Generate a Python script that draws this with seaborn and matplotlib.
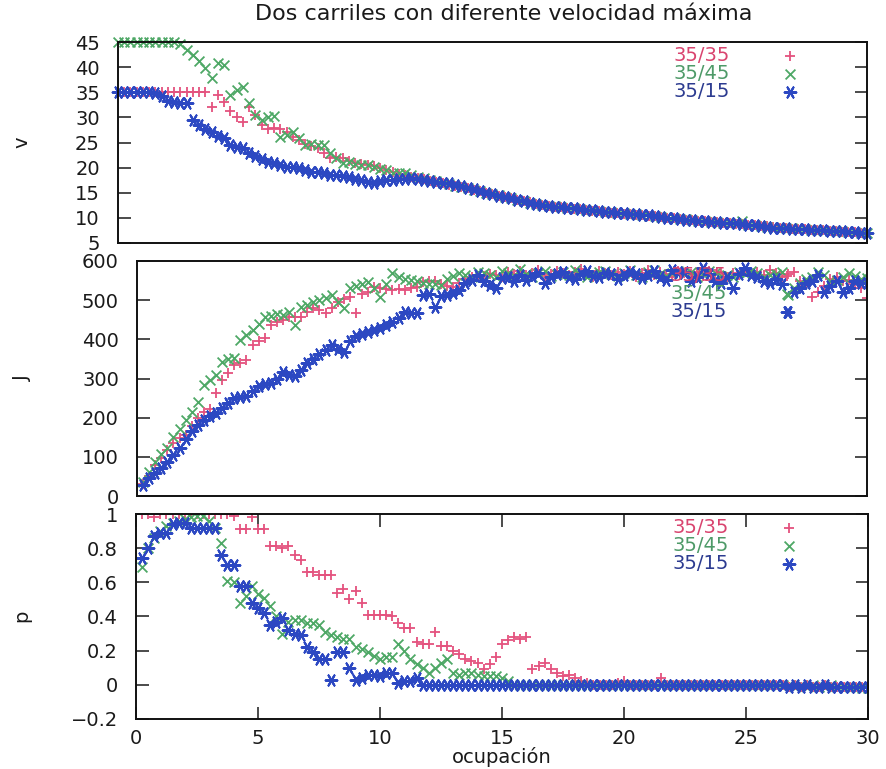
import numpy as np
import pandas as pd
import matplotlib
matplotlib.use("Agg")
import matplotlib.pyplot as plt
import seaborn as sns

# ---------------- data ----------------
ocupacion = np.arange(121) * 0.25          # 0 .. 30, step 0.25
series = ["35/35", "35/45", "35/15"]
nan = np.nan

v_35_35 = [35, 35, 35, 35, 35, 35, 35, 35, 35, 35, 35, 35, 35, 35, 35, 32.1, 34.5, 33.0, 31.3, 30.0,
           29.1, 32.1, 30.5, 28.5, 27.7, 27.9, 27.7, 27.0, 26.1, 25.5, 24.8, 24.3, 23.9, 22.9, 21.9, 22.1, 21.9, 21.3, 20.9, 20.7,
           20.5, 20.3, 19.9, 19.5, 19.2, 18.8, 18.5, 18.2, 17.9, 17.7, 17.4, 17.1, 16.9, 16.6, 16.4, 16.1, 15.9, 15.6, 15.3, 15.0,
           14.7, 14.4, 14.1, 13.9, 13.6, 13.3, 13.1, 12.8, 12.6, 12.4, 12.2, 12.1, 11.9, 11.8, 11.7, 11.6, 11.4, 11.3, 11.2, 11.0,
           10.9, 10.8, 10.7, 10.6, 10.5, 10.4, 10.3, 10.2, 10.0, 9.9, 9.8, 9.6, 9.5, 9.4, 9.3, 9.2, 9.1, 9.0, 8.9, 8.8,
           8.7, 8.6, 8.5, 8.4, 8.3, 8.1, 8.0, 7.9, 7.8, 7.8, 7.7, 7.6, 7.5, 7.5, 7.4, 7.3, 7.2, 7.2, 7.1, 7.0,
           6.9]
v_35_45 = [45, 45, 45, 45, 45, 45, 45, 45, 45, 45, 44.6, 43.5, 42.5, 41.2, 39.8, 37.8, 40.8, 40.5, 34.5, 35.5,
           36.0, 32.9, 30.5, 29.5, 30.1, 30.2, 26.1, 26.4, 27.1, 25.9, 24.5, 24.7, 24.5, 24.5, 23.0, 22.0, 20.9, 21.2, 20.8, 20.6,
           20.5, 20.2, 19.8, 19.5, 18.9, 18.9, 18.9, 18.5, 18.2, 17.9, 17.6, 17.3, 17.0, 16.7, 16.4, 16.2, 16.0, 15.6, 15.3, 15.0,
           14.7, 14.5, 14.2, 13.9, 13.6, 13.3, 13.0, 12.8, 12.6, 12.4, 12.3, 12.1, 12.0, 11.9, 11.7, 11.6, 11.5, 11.3, 11.2, 11.1,
           11.0, 10.9, 10.8, 10.7, 10.6, 10.4, 10.3, 10.2, 10.1, 9.9, 9.8, 9.7, 9.5, 9.4, 9.3, 9.2, 9.1, 9.0, 8.9, 8.9,
           9.3, 8.6, 8.5, 8.4, 8.2, 8.1, 8.0, 7.9, 7.9, 7.8, 7.7, 7.6, 7.5, 7.5, 7.4, 7.3, 7.3, 7.2, 7.1, 7.0,
           6.9]
v_35_15 = [35, 35, 35, 35, 35, 35, 34.8, 34.3, 33.3, 33.0, 32.8, 32.8, 29.5, 28.5, 27.6, 27.0, 26.3, 25.8, 24.6, 24.2,
           23.9, 23.0, 22.4, 21.8, 21.2, 21.0, 20.5, 20.1, 20.2, 20.0, 19.6, 19.2, 19.1, 18.9, 18.6, 18.5, 18.3, 18.1, 17.8, 17.6,
           17.2, 17.0, 17.3, 17.5, 17.6, 17.7, 17.8, 17.9, 17.8, 17.6, 17.3, 17.1, 17.0, 16.9, 16.6, 16.3, 16.0, 15.7, 15.3, 15.0,
           14.7, 14.4, 14.2, 14.0, 13.6, 13.3, 12.9, 12.7, 12.6, 12.4, 12.2, 12.1, 12.0, 11.9, 11.8, 11.6, 11.5, 11.4, 11.2, 11.1,
           11.0, 10.9, 10.8, 10.7, 10.6, 10.5, 10.3, 10.2, 10.0, 9.9, 9.7, 9.6, 9.5, 9.4, 9.3, 9.2, 9.1, 9.0, 9.0, 8.9,
           8.7, 8.6, 8.5, 8.3, 8.2, 8.0, 8.0, 7.9, 7.8, 7.8, 7.7, 7.6, 7.6, 7.5, 7.4, 7.3, 7.3, 7.2, 7.1, 7.0,
           6.9]

J_35_35 = [nan, 30, 52, 78, 98, 118, 135, 148, 155, 180, 199, 215, 222, 263, 296, 315, 334, 340, 347, 386,
           395, 403, 437, 445, 450, 457, 457, 457, 470, 480, 475, 467, 480, 495, 502, 508, 467, 515, 521, 534,
           530, 528, 526, 528, 526, 530, 534, 546, 550, 548, 540, 536, 534, 545, 555, 560, 558, 562, 566, 564,
           560, 572, 568, 575, 565, 570, 578, 562, 568, 575, 570, 565, 572, 580, 568, 560, 575, 570, 565, 572,
           568, 574, 560, 570, 578, 565, 572, 568, 560, 575, 570, 566, 572, 562, 575, 568, 572, 560, 570, 565,
           575, 568, 572, 565, 578, 570, 560, 566, 572, 550, 540, 508, 520, 535, 555, 560, 548, 552, 540, 530,
           505]
J_35_45 = [nan, 35, 62, 88, 108, 123, 150, 170, 194, 215, 240, 283, 295, 309, 342, 350, 352, 398, 410, 424,
           440, 457, 460, 465, 462, 470, 437, 482, 488, 495, 500, 505, 513, 495, 480, 531, 535, 540, 546, 530,
           508, 540, 569, 560, 555, 551, 548, 544, 540, 542, 539, 555, 562, 569, 565, 560, 572, 570, 565, 558,
           575, 570, 562, 580, 566, 558, 570, 575, 562, 568, 572, 565, 578, 570, 560, 566, 572, 575, 568, 562,
           570, 576, 565, 560, 572, 578, 568, 562, 570, 575, 566, 572, 560, 568, 575, 570, 562, 565, 558, 572,
           568, 575, 570, 560, 565, 568, 572, 513, 530, 545, 555, 560, 572, 565, 548, 552, 560, 570, 562, 555,
           557]
J_35_15 = [nan, 28, 45, 58, 72, 86, 105, 122, 145, 165, 182, 193, 203, 213, 225, 238, 250, 252, 256, 268,
           280, 285, 288, 300, 317, 310, 306, 322, 340, 350, 362, 372, 386, 375, 368, 395, 408, 413, 419, 424,
           430, 437, 444, 455, 470, 468, 466, 512, 516, 482, 510, 514, 518, 525, 544, 552, 564, 548, 538, 531,
           557, 560, 548, 565, 552, 562, 570, 545, 558, 566, 572, 560, 553, 568, 575, 562, 558, 570, 566, 555,
           563, 572, 568, 556, 565, 575, 560, 552, 578, 570, 572, 548, 560, 582, 567, 550, 545, 558, 531, 568,
           582, 565, 560, 548, 545, 555, 540, 470, 521, 530, 545, 550, 565, 521, 535, 548, 521, 530, 550, 544,
           545]

p_35_35 = [nan, 1.0, 1.0, 0.98, 1.0, 1.0, 1.0, 1.0, 1.0, 1.0, 1.0, 1.0, 1.0, 1.0, 1.0, 1.0, 0.99, 0.91, 0.91, 0.98,
           0.91, 0.91, 0.81, 0.81, 0.80, 0.81, 0.76, 0.73, 0.66, 0.66, 0.64, 0.64, 0.64, 0.54, 0.56, 0.50, 0.55, 0.48, 0.41, 0.41,
           0.41, 0.41, 0.40, 0.36, 0.33, 0.33, 0.25, 0.24, 0.24, 0.31, 0.23, 0.23, 0.20, 0.18, 0.15, 0.14, 0.13, 0.09, 0.12, 0.16,
           0.24, 0.26, 0.28, 0.27, 0.28, 0.09, 0.11, 0.13, 0.09, 0.07, 0.05, 0.06, 0.04, 0.02, 0.01, 0.0, 0.0, 0.0, 0.0, 0.01,
           0.02, 0.0, 0.0, 0.0, 0.0, 0.0, 0.04, 0.0, 0.0, 0.0, 0.0, 0.0, 0.0, 0.0, 0.0, 0.0, 0.0, 0.0, 0.0, 0.0,
           0.0, 0.0, 0.0, 0.0, 0.0, 0.0, 0.0, -0.01, 0.0, -0.01, 0.0, -0.01, -0.01, 0.0, -0.01, -0.01, -0.01, -0.01, -0.01, -0.01,
           -0.01]
p_35_45 = [nan, 0.69, 0.80, 0.86, 0.90, 0.93, 0.95, 0.96, 0.97, 0.98, 0.99, 0.99, 0.96, 0.92, 0.83, 0.61, 0.60, 0.48, 0.52, 0.58,
           0.53, 0.51, 0.46, 0.40, 0.30, 0.37, 0.38, 0.38, 0.36, 0.36, 0.35, 0.31, 0.29, 0.28, 0.27, 0.27, 0.22, 0.21, 0.19, 0.17,
           0.15, 0.16, 0.16, 0.24, 0.20, 0.15, 0.12, 0.10, 0.07, 0.10, 0.13, 0.15, 0.07, 0.06, 0.07, 0.07, 0.06, 0.05, 0.05, 0.05,
           0.04, 0.02, 0.0, 0.0, 0.0, 0.0, 0.0, 0.0, 0.0, 0.0, 0.0, 0.0, 0.0, 0.0, 0.0, 0.0, 0.0, 0.0, 0.0, 0.0,
           0.0, 0.0, 0.0, 0.0, 0.0, 0.0, 0.0, 0.0, 0.0, 0.0, 0.0, 0.0, 0.0, 0.0, 0.0, 0.0, 0.0, 0.0, 0.0, 0.0,
           0.0, 0.0, 0.0, 0.0, 0.0, 0.0, 0.0, 0.0, -0.01, 0.0, -0.01, 0.0, -0.01, -0.01, 0.0, -0.01, -0.01, -0.01, -0.01, -0.02,
           -0.02]
p_35_15 = [nan, 0.74, 0.80, 0.87, 0.89, 0.89, 0.94, 0.95, 0.95, 0.92, 0.92, 0.92, 0.92, 0.92, 0.76, 0.70, 0.70, 0.58, 0.58, 0.48,
           0.45, 0.42, 0.35, 0.37, 0.39, 0.32, 0.30, 0.29, 0.22, 0.19, 0.15, 0.15, 0.03, 0.19, 0.19, 0.10, 0.03, 0.04, 0.06, 0.06,
           0.05, 0.07, 0.07, 0.01, 0.02, 0.02, 0.04, 0.0, 0.0, 0.0, 0.0, 0.0, 0.0, 0.0, 0.0, 0.0, 0.0, 0.0, 0.0, 0.0,
           0.0, 0.0, 0.0, 0.0, 0.0, 0.0, 0.0, 0.0, 0.0, 0.0, 0.0, 0.0, 0.0, 0.0, 0.0, 0.0, 0.0, 0.0, 0.0, 0.0,
           0.0, 0.0, 0.0, 0.0, 0.0, 0.0, 0.0, 0.0, 0.0, 0.0, 0.0, 0.0, 0.0, 0.0, 0.0, 0.0, 0.0, 0.0, 0.0, 0.0,
           0.0, 0.0, 0.0, 0.0, 0.0, 0.0, 0.0, -0.01, 0.0, -0.01, 0.0, -0.01, -0.01, 0.0, -0.01, -0.01, -0.01, -0.01, -0.01, -0.01,
           -0.01]

v_ticks = [5, 10, 15, 20, 25, 30, 35, 40, 45]
J_ticks = [0, 100, 200, 300, 400, 500, 600]
p_ticks = [-0.2, 0, 0.2, 0.4, 0.6, 0.8, 1]
p_ticklabels = ["\u22120.2", "0", "0.2", "0.4", "0.6", "0.8", "1"]
x_ticks = [0, 5, 10, 15, 20, 25, 30]

# ---------------- style ----------------
sns.set_theme(style="white")
plt.rcParams["font.family"] = ["DejaVu Sans"]
plt.rcParams["axes.unicode_minus"] = True

FS = 14
marker_cols = {"35/35": "#e4527e", "35/45": "#4ea866", "35/15": "#2c48c2"}
text_cols = ["#d9446f", "#4e9a68", "#2c3b90"]
markers = {"35/35": "+", "35/45": "x", "35/15": (6, 2, 90)}
sizes = {"35/35": 60, "35/45": 50, "35/15": 70}
widths = {"35/35": 1.3, "35/45": 1.3, "35/15": 1.5}

W, H = 887, 769
fig = plt.figure(figsize=(W / 100, H / 100), dpi=100)


def rect(l, r, t, b):
    return [l / W, (H - b) / H, (r - l) / W, (b - t) / H]


ax_v = fig.add_axes(rect(118, 867, 42, 243))
ax_J = fig.add_axes(rect(137, 867, 261, 496))
ax_p = fig.add_axes(rect(136, 868, 514, 719))

panels = [
    (ax_v, [v_35_35, v_35_45, v_35_15], (5, 45), v_ticks, None, "v", 142),
    (ax_J, [J_35_35, J_35_45, J_35_15], (0, 600), J_ticks, None, "J", 378),
    (ax_p, [p_35_35, p_35_45, p_35_15], (-0.2, 1), p_ticks, p_ticklabels, "p", 616),
]

legend_anchor = {ax_v: (800, 46, 118, 867, 42, 243),
                 ax_J: (797, 266, 137, 867, 261, 496),
                 ax_p: (799, 518, 136, 868, 514, 719)}

for ax, ys, ylim, yt, ytl, ylab, ycen in panels:
    for name, y in zip(series, ys):
        df = pd.DataFrame({"ocupacion": ocupacion, "y": y})
        sns.scatterplot(data=df, x="ocupacion", y="y", ax=ax, marker=markers[name],
                        s=sizes[name], color=marker_cols[name], linewidth=widths[name],
                        label=name, clip_on=False if ax is ax_v else True)
    ax.set_xlim(0, 30)
    ax.set_ylim(*ylim)
    ax.set_yticks(yt)
    if ytl is not None:
        ax.set_yticklabels(ytl)
    ax.set_xlabel("")
    ax.set_ylabel("")
    ax.tick_params(axis="y", direction="in", length=9, width=1.1, left=True, right=True,
                   labelsize=FS, pad=13, colors="#1a1a1a")
    for sp in ax.spines.values():
        sp.set_linewidth(1.4)
        sp.set_color("#111111")
    ax.set_facecolor("white")
    fig.text(22 / W, 1 - ycen / H, ylab, rotation=90, ha="center", va="center",
             fontsize=FS, color="#1a1a1a")

    rx, ty, l, r, t, b = legend_anchor[ax]
    leg = ax.legend(loc="upper right",
                    bbox_to_anchor=((rx - l) / (r - l), 1 - (ty - t) / (b - t)),
                    frameon=False, markerfirst=False, fontsize=FS,
                    handlelength=1.0, handletextpad=2.6, labelspacing=-0.05,
                    borderpad=0, borderaxespad=0, labelcolor=text_cols,
                    scatterpoints=1)

for ax in (ax_v, ax_J):
    ax.set_xticks(x_ticks)
    ax.tick_params(axis="x", bottom=False, top=False, labelbottom=False)

ax_p.set_xticks(x_ticks)
ax_p.tick_params(axis="x", direction="in", length=9, width=1.1, bottom=True, top=True,
                 labelsize=FS, pad=7, colors="#1a1a1a")

fig.text(504 / W, 1 - 14 / H, "Dos carriles con diferente velocidad máxima",
         ha="center", va="center", fontsize=16, color="#1a1a1a")
fig.text(502 / W, 1 - 757 / H, "ocupación", ha="center", va="center",
         fontsize=FS, color="#1a1a1a")

fig.savefig("out.png", dpi=100, facecolor="white")
